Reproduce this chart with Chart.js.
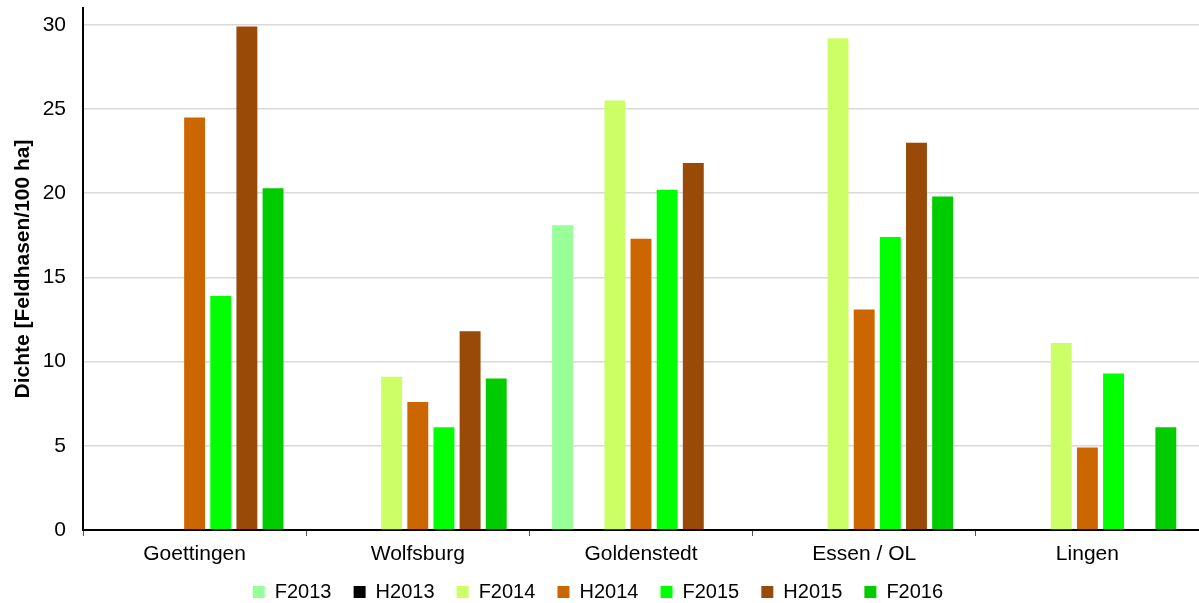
<!DOCTYPE html>
<html>
<head>
<meta charset="utf-8">
<script src="https://cdn.jsdelivr.net/npm/chart.js@4"></script>
<style>
  html, body { margin: 0; padding: 0; background: #fff; }
  #wrap { width: 1199px; height: 603px; }
</style>
</head>
<body>
<div id="wrap"><canvas id="grafico"></canvas></div>
<script>
var gebiete = ['Goettingen', 'Wolfsburg', 'Goldenstedt', 'Essen / OL', 'Lingen'];
var serien = ['F2013', 'H2013', 'F2014', 'H2014', 'F2015', 'H2015', 'F2016'];
var farben = ['#99ff99', '#000000', '#ccff66', '#cc6600', '#00ff00', '#994a06', '#00cc00'];

var F2013 = [null, null, 18.1, null, null];
var H2013 = [null, null, null, null, null];
var F2014 = [null, 9.1, 25.5, 29.2, 11.1];
var H2014 = [24.5, 7.6, 17.3, 13.1, 4.9];
var F2015 = [13.9, 6.1, 20.2, 17.4, 9.3];
var H2015 = [29.9, 11.8, 21.8, 23.0, null];
var F2016 = [20.3, 9.0, null, 19.8, 6.1];

var werte = [F2013, H2013, F2014, H2014, F2015, H2015, F2016];

function datasets(){
  var result = [];
  for (var i = 0; i < serien.length; i++) {
    result.push({
      label: serien[i],
      data: werte[i],
      backgroundColor: farben[i],
      borderWidth: 0,
      categoryPercentage: 0.82,
      barPercentage: 0.8
    });
  }
  return result;
}

Chart.defaults.font.family = '"Liberation Sans", Arial, sans-serif';
Chart.defaults.color = '#000';

// etwas mehr Abstand zwischen den Legendeneintraegen
function legendLabels(chart){
  var items = Chart.defaults.plugins.legend.labels.generateLabels(chart);
  items.forEach(function(it){ it.text = it.text + '  '; });
  return items;
}

var ctx = document.getElementById('grafico');
var chart = new Chart(ctx, {
  type: 'bar',
  data: {
    labels: gebiete,
    datasets: datasets()
  },
  options: {
    responsive: true,
    maintainAspectRatio: false,
    animation: false,
    layout: { padding: { top: 8, right: 0, left: 8, bottom: 0 } },
    plugins: {
      tooltip: { enabled: false },
      legend: {
        position: 'bottom',
        maxHeight: 32,
        labels: {
          boxWidth: 12,
          boxHeight: 12,
          padding: 11,
          font: { size: 20 },
          generateLabels: legendLabels
        }
      }
    },
    scales: {
      x: {
        grid: {
          display: true,
          drawOnChartArea: false,
          offset: true,
          tickLength: 6,
          color: '#555'
        },
        border: { color: '#000', width: 2 },
        ticks: { font: { size: 21 }, padding: 6 },
        afterFit: function(s){ s.height = 41; }
      },
      y: {
        min: 0,
        max: 31,
        ticks: {
          stepSize: 5,
          includeBounds: false,
          font: { size: 21 },
          padding: 17
        },
        grid: {
          color: '#d9d9d9',
          lineWidth: 1.5,
          drawTicks: false
        },
        border: { color: '#000', width: 2 },
        title: {
          display: true,
          text: 'Dichte [Feldhasen/100 ha]',
          font: { size: 21, weight: 'bold' },
          padding: { top: 3, bottom: 0 }
        },
        afterFit: function(s){
          s.width = 75;
          s.paddingTop = 0;
          s.paddingBottom = 0;
        }
      }
    }
  }
});
</script>
</body>
</html>
